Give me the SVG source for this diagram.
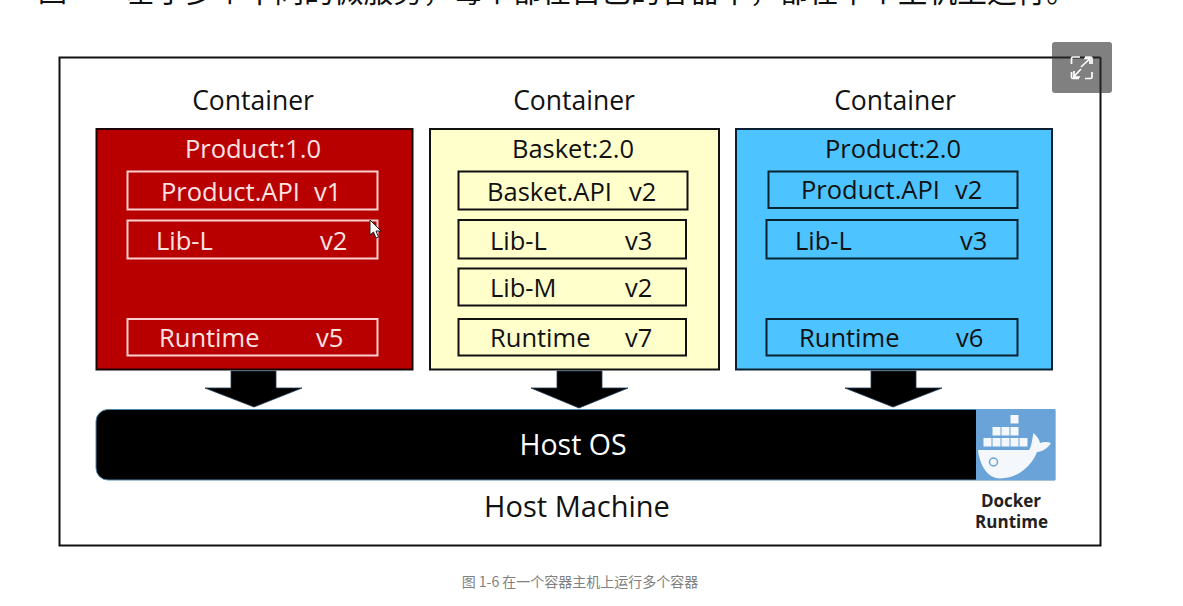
<svg xmlns="http://www.w3.org/2000/svg" width="1183" height="606" viewBox="0 0 1183 606">
<style>
text{font-family:"Open Sans","Noto Sans","Noto Sans CJK SC",sans-serif;font-size:25.500px;fill:#111}
.m{text-anchor:middle}
.w{fill:#fbe3e3}
.c{font-size:26.500px}
.r{fill:#b90000;stroke:#1a0505;stroke-width:2}
.y{fill:#ffffcc;stroke:#111;stroke-width:2}
.b{fill:#4dc3ff;stroke:#0a2030;stroke-width:2}
.ri{fill:none;stroke:#fbd0d0;stroke-width:2}
.yi{fill:none;stroke:#111;stroke-width:2}
.bi{fill:none;stroke:#08222f;stroke-width:2}
.a{fill:#000;stroke:#1d3a55;stroke-width:.8}
</style>
<rect width="1183" height="606" fill="#fff"/>
<text x="38" y="2" style="font-size:29px;font-family:'Noto Sans CJK SC',sans-serif">图</text>
<text x="126" y="2" style="font-size:29.700px;font-family:'Noto Sans CJK SC',sans-serif">基于多个不同的微服务，每个都在自己的容器中，都在单个主机上运行。</text>
<rect id="host-machine" x="59.500" y="57.500" width="1041" height="488" fill="#fff" stroke="#111" stroke-width="2"/>
<g id="expand-button">
<rect x="1052" y="42" width="60" height="51" rx="3" fill="#808080"/>
<line x1="1052" y1="57.500" x2="1100.500" y2="57.500" stroke="#222" stroke-width="2"/>
<line x1="1100.500" y1="57.500" x2="1100.500" y2="93" stroke="#222" stroke-width="2"/>
<path d="M1080 57H1073a1.500 1.500 0 0 0-1.500 1.500V64M1085 57H1090.500a1.500 1.500 0 0 1 1.500 1.500V64M1071.500 72V77a1.500 1.500 0 0 0 1.500 1.500H1079M1092 72V77a1.500 1.500 0 0 1-1.500 1.500H1085M1081 67L1089 59.500M1084 58.500H1090V64M1081 69L1074 76.500M1074 71V77H1080" fill="none" stroke="#fff" stroke-width="1.700"/>
</g>
<g id="container-1">
<text class="m c" x="253" y="110">Container</text>
<rect class="r" x="96.500" y="129" width="316" height="240.500"/>
<text class="m w" x="253" y="158">Product:1.0</text>
<rect class="ri" x="127.500" y="171.500" width="250" height="38"/>
<text class="w" x="161" y="201">Product.API</text><text class="w" x="314" y="201">v1</text>
<rect class="ri" x="127.500" y="220.500" width="250" height="38"/>
<text class="w" x="156" y="250">Lib-L</text><text class="w" x="320" y="250">v2</text>
<rect class="ri" x="127.500" y="319" width="250" height="36.500"/>
<text class="w" x="159" y="347">Runtime</text><text class="w" x="316" y="347">v5</text>
</g>
<g id="container-2">
<text class="m c" x="574" y="110">Container</text>
<rect class="y" x="430" y="129" width="289" height="240.500"/>
<text class="m" x="573" y="158">Basket:2.0</text>
<rect class="yi" x="458.500" y="171.500" width="229" height="38"/>
<text x="487" y="201">Basket.API</text><text x="629" y="201">v2</text>
<rect class="yi" x="458.500" y="220" width="227.500" height="38.500"/>
<text x="490" y="250">Lib-L</text><text x="625" y="250">v3</text>
<rect class="yi" x="458.500" y="268.500" width="227.500" height="37"/>
<text x="490" y="297">Lib-M</text><text x="625" y="297">v2</text>
<rect class="yi" x="458.500" y="319" width="227.500" height="36.500"/>
<text x="490" y="347">Runtime</text><text x="625" y="347">v7</text>
</g>
<g id="container-3">
<text class="m c" x="895" y="110">Container</text>
<rect class="b" x="736" y="129" width="316" height="240.500"/>
<text class="m" x="893" y="158">Product:2.0</text>
<rect class="bi" x="768.500" y="171.500" width="249" height="36.500"/>
<text x="801" y="199">Product.API</text><text x="955" y="199">v2</text>
<rect class="bi" x="766.500" y="220" width="251" height="38.500"/>
<text x="795" y="250">Lib-L</text><text x="960" y="250">v3</text>
<rect class="bi" x="766.500" y="319" width="251" height="36.500"/>
<text x="799" y="347">Runtime</text><text x="956" y="347">v6</text>
</g>
<g id="connectors">
<path id="a1" class="a" d="M231 371H276V388H302L254 407L205 388H231Z"/>
<path id="a2" class="a" d="M557 371H602V388H628L579 408L531 388H557Z"/>
<path id="a3" class="a" d="M871 371H916V388H942L893 407L845 388H871Z"/>
</g>
<g id="host-os">
<path d="M1055 409.500H108a12 12 0 0 0-12 12V468a12 12 0 0 0 12 12H1055Z" fill="#000" stroke="#4f86ad" stroke-width="1"/>
<text class="m" x="573" y="455" style="font-size:28.500px;fill:#fff">Host OS</text>
</g>
<g id="docker-runtime">
<rect x="976" y="409" width="79" height="71" fill="#6aa3d8"/>
<g fill="#f4f8fc">
<rect x="1010.500" y="415" width="8" height="8.500"/>
<rect x="992.500" y="427" width="8" height="8.500"/><rect x="1001.500" y="427" width="8" height="8.500"/><rect x="1010.500" y="427" width="8" height="8.500"/>
<rect x="983.500" y="438" width="8" height="8.500"/><rect x="992.500" y="438" width="8" height="8.500"/><rect x="1001.500" y="438" width="8" height="8.500"/><rect x="1010.500" y="438" width="8" height="8.500"/><rect x="1019.500" y="438" width="8" height="8.500"/>
<path d="M978 450H1029C1031.500 447 1032 440 1033.500 433C1037 436 1039.500 440 1040 443C1044 441.500 1047.500 441.500 1051 443C1047.500 449 1042 451.500 1037 452C1031 467 1017 478.500 1000 478.500C987 478.500 979.500 464 978 450Z"/>
</g>
<circle cx="993.500" cy="462" r="4" fill="none" stroke="#6aa3d8" stroke-width="1.500"/>
<text class="m" x="1011" y="507" style="font-size:17px;font-weight:700;fill:#222">Docker</text>
<text class="m" x="1011.500" y="528" style="font-size:17px;font-weight:700;fill:#222">Runtime</text>
</g>
<text class="m" x="577" y="517" style="font-size:29px">Host Machine</text>
<text class="m" x="580" y="587" style="font-size:14px;fill:#808080;font-family:'Noto Sans CJK SC',sans-serif">图 1-6 在一个容器主机上运行多个容器</text>
<path d="M370 220V235L373.500 232L376 238L378.500 237L376 231L381 231Z" fill="#fff" stroke="#222" stroke-width="1"/>
</svg>
